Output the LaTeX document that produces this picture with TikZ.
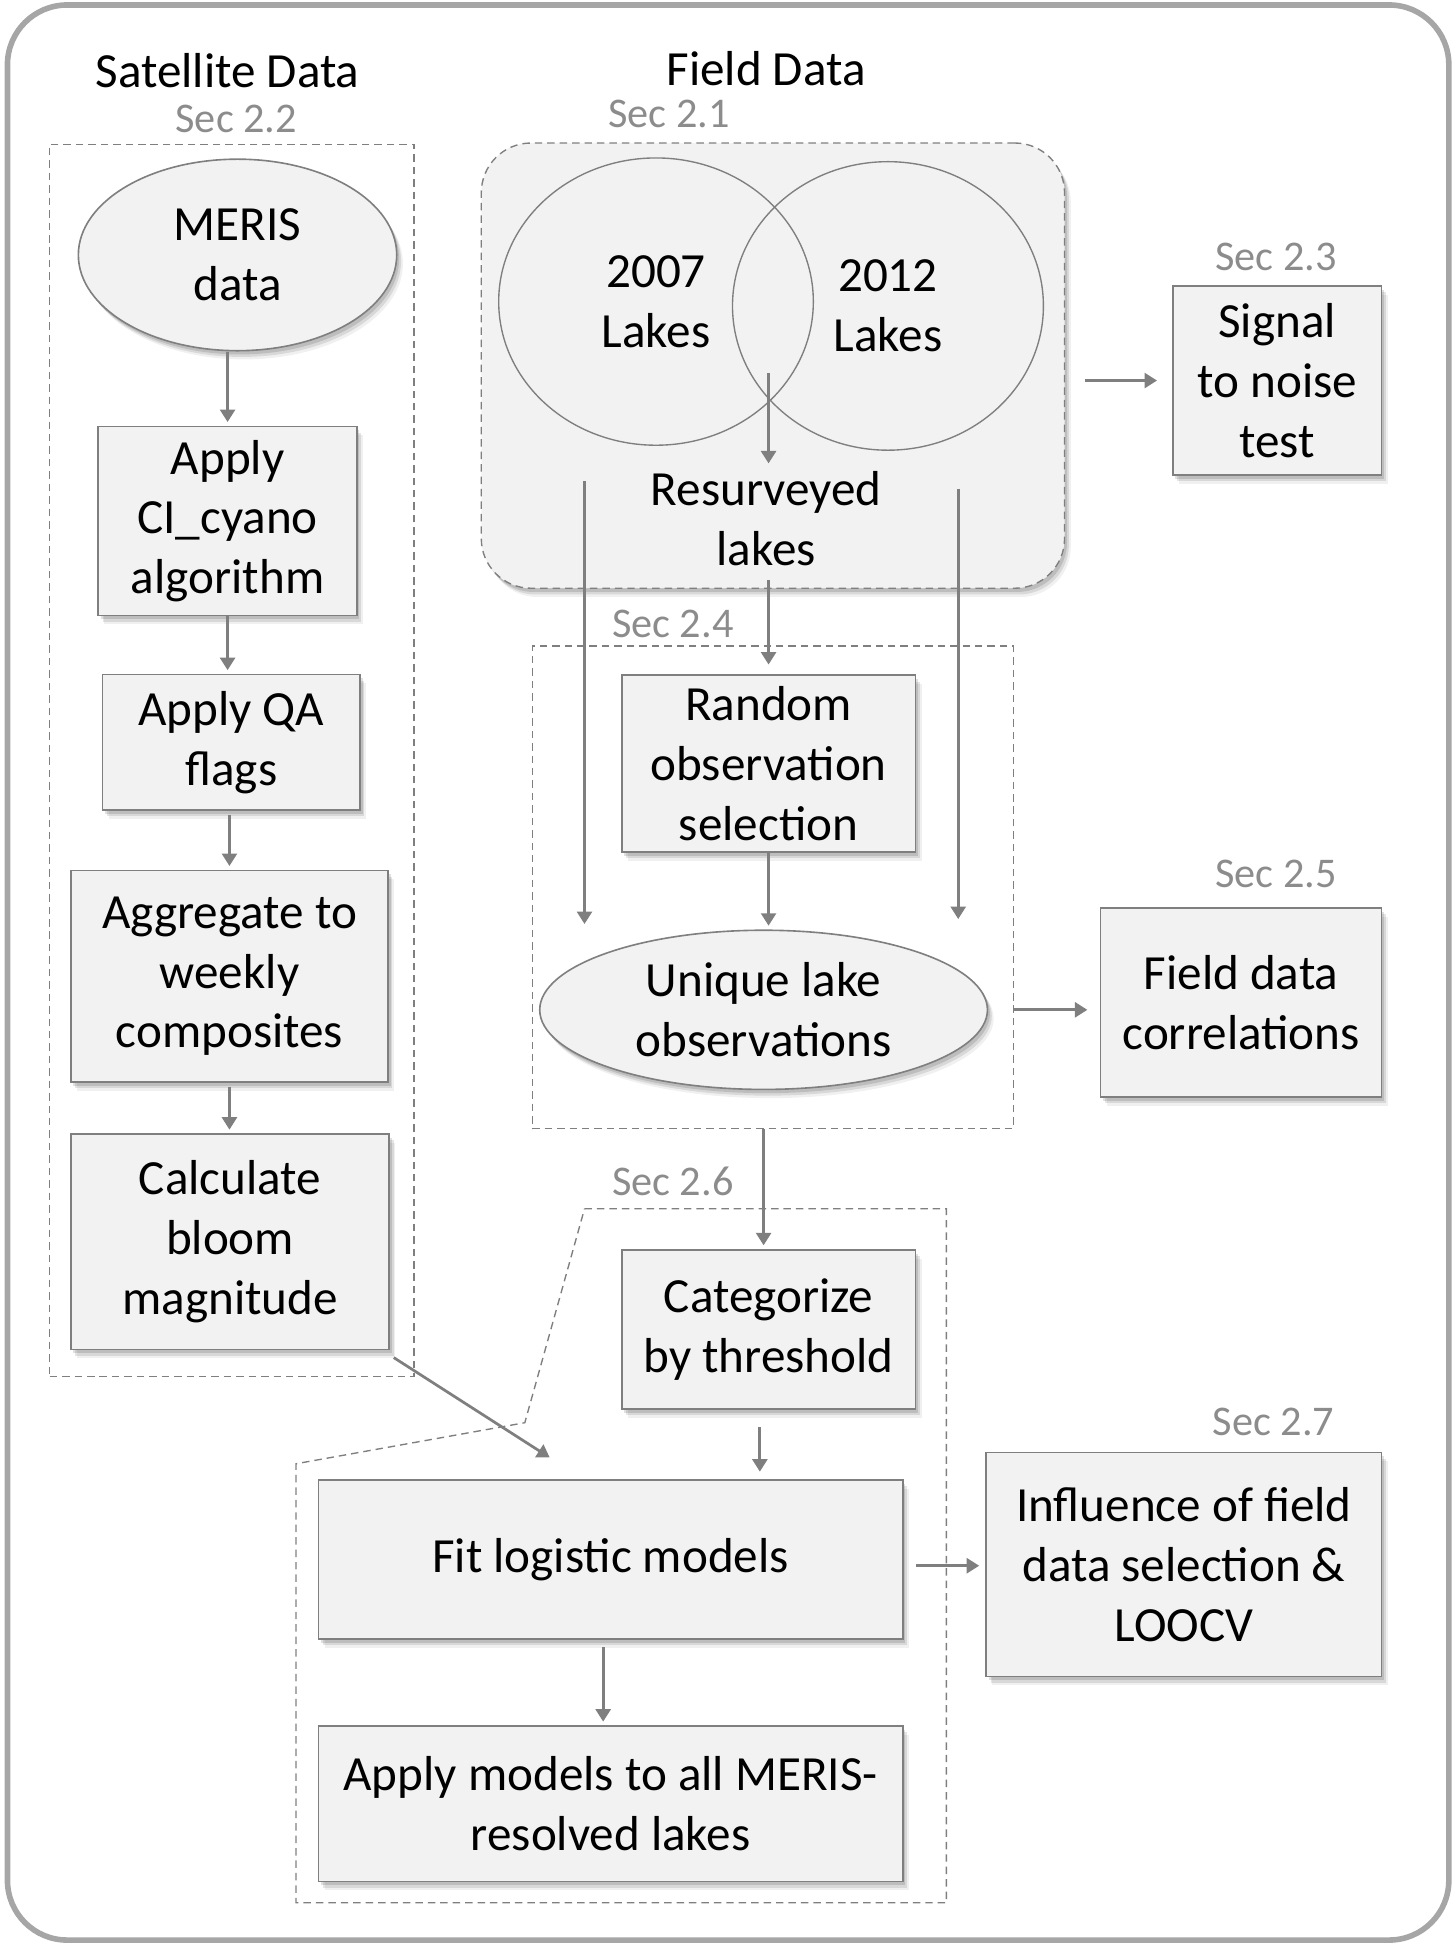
\documentclass[tikz,border=0pt]{standalone}
\usepackage{fontspec}
\setmainfont{Carlito}
\usetikzlibrary{arrows.meta,shapes.geometric,shadows}
\definecolor{boxgray}{HTML}{F2F2F2}
\definecolor{linegray}{HTML}{7F7F7F}
\definecolor{secgray}{HTML}{8C8C8C}
\definecolor{framegray}{HTML}{A6A6A6}
\newcommand{\boxfont}{\fontsize{39.5}{48}\selectfont}
\newcommand{\secfont}{\fontsize{34}{40}\selectfont}
\tikzset{
  softshadow/.style={
    drop shadow={shadow xshift=2pt, shadow yshift=-3pt, fill=black, opacity=.12},
    drop shadow={shadow xshift=3.5pt, shadow yshift=-5pt, fill=black, opacity=.1},
    drop shadow={shadow xshift=5pt, shadow yshift=-7pt, fill=black, opacity=.06}},
  stage/.style={draw=linegray, fill=boxgray, line width=1.3pt, inner sep=0pt,
    align=center, font=\boxfont, softshadow},
  dataoval/.style={stage, ellipse},
  lakeset/.style={ellipse, draw=linegray, line width=1.1pt, inner sep=0pt,
    align=center, font=\boxfont},
  seclabel/.style={text=secgray, font=\secfont},
  heading/.style={font=\boxfont, align=center},
  group/.style={draw=linegray, line width=1.1pt, dash pattern=on 6pt off 4pt},
  flow/.style={draw=linegray, line width=2.2pt, shorten >=3pt,
    -{Triangle[width=12pt,length=10pt]}},
}
\begin{document}
\begin{tikzpicture}[x=1pt, y=-1pt]
    \useasboundingbox (0, 0) rectangle (1169, 1568);
    \draw[framegray, line width=4.5pt, rounded corners=48pt] (6, 4) rectangle (1165, 1560);
    % headings and section labels
    \node[heading] (sathead) at (183, 57) {Satellite Data};
    \node[heading] (fieldhead) at (616, 55) {Field Data};
    \node[seclabel] (sec22) at (190, 96) {Sec 2.2};
    \node[seclabel] (sec21) at (538, 92) {Sec 2.1};
    \node[seclabel] (sec23) at (1026, 207) {Sec 2.3};
    \node[seclabel] (sec24) at (541, 502) {Sec 2.4};
    \node[seclabel] (sec25) at (1026, 703) {Sec 2.5};
    \node[seclabel] (sec26) at (541, 950) {Sec 2.6};
    \node[seclabel] (sec27) at (1024, 1143) {Sec 2.7};
    % dashed groups
    \node[group, minimum width=293pt, minimum height=991pt] (grptwo) at (186.5, 611.5) {};
    \node[group, fill=boxgray, rounded corners=40pt, minimum width=469pt, minimum height=358pt,
          softshadow] (grpone) at (621.5, 294) {};
    \node[group, minimum width=387pt, minimum height=388pt] (grpfour) at (621.5, 713.5) {};
    \draw[group] (470, 972) -- (761, 972) -- (761, 1530) -- (238, 1530)
                 -- (238, 1177) -- (422, 1144) -- cycle;
    % satellite column
    \node[dataoval, minimum width=256pt, minimum height=154pt] (meris) at (191, 205) {MERIS\\data};
    \node[stage, minimum width=208pt, minimum height=152pt] (ci) at (183, 419)
          {Apply\\CI\_cyano\\algorithm};
    \node[stage, minimum width=207pt, minimum height=109pt] (qa) at (186, 597) {Apply QA\\flags};
    \node[stage, minimum width=255pt, minimum height=170pt] (agg) at (184.5, 785)
          {Aggregate to\\weekly\\composites};
    \node[stage, minimum width=256pt, minimum height=173pt] (calc) at (185, 998.5)
          {Calculate\\bloom\\magnitude};
    % field column
    \node[lakeset, minimum width=253pt, minimum height=231pt] (yr07) at (527.5, 242.5) {2007\\Lakes};
    \node[lakeset, minimum width=250pt, minimum height=232pt] (yr12) at (714, 246) {2012\\Lakes};
    \node[heading] (resurv) at (616, 417) {Resurveyed\\lakes};
    \node[stage, minimum width=236pt, minimum height=142pt] (random) at (618, 614)
          {Random\\observation\\selection};
    \node[dataoval, minimum width=360pt, minimum height=128pt] (unique) at (614, 812)
          {Unique lake\\observations};
    \node[stage, minimum width=236pt, minimum height=128pt] (catg) at (618, 1069)
          {Categorize\\by threshold};
    \node[stage, minimum width=470pt, minimum height=128pt] (fit) at (491, 1254) {Fit logistic models};
    \node[stage, minimum width=470pt, minimum height=125pt] (applym) at (491, 1450.5)
          {Apply models to all MERIS-\\resolved lakes};
    % side boxes
    \node[stage, minimum width=168pt, minimum height=152pt] (signal) at (1027, 306)
          {Signal\\to noise\\test};
    \node[stage, minimum width=226pt, minimum height=152pt] (fieldcorr) at (998, 806)
          {Field data\\correlations};
    \node[stage, minimum width=318pt, minimum height=180pt] (influence) at (952, 1258)
          {Influence of field\\data selection \&\\LOOCV};
    % free ends
    \coordinate (lens) at (618, 300);
    \coordinate (only07top) at (470, 387);
    \coordinate (only07end) at (470, 743);
    \coordinate (only12top) at (770.5, 393);
    \coordinate (only12end) at (770.5, 739);
    \coordinate (fitin) at (442, 1172);
    % arrows
    \draw[flow] (meris.south -| ci.north) -- (ci.north);
    \draw[flow] (ci.south) -- (ci.south |- qa.north);
    \draw[flow, shorten <=3pt] (qa.south -| agg.north) -- (agg.north);
    \draw[flow, shorten <=3pt] (agg.south) -- (agg.south |- calc.north);
    \draw[flow] (lens) -- (resurv.north -| lens);
    \draw[flow, shorten <=8pt, shorten >=8pt] (resurv.south -| random.north) -- (random.north);
    \draw[flow, shorten >=0pt] (only07top) -- (only07end);
    \draw[flow, shorten >=0pt] (only12top) -- (only12end);
    \draw[flow] (random.south) -- (random.south |- unique.north);
    \draw[flow] (grpfour.south -| unique) -- (catg.north -| unique);
    \draw[flow, shorten <=14pt, shorten >=6pt] ([xshift=-7pt]catg.south) -- ([xshift=-7pt]catg.south |- fit.north);
    \draw[flow, shorten <=6pt] ([xshift=-6pt]fit.south) -- ([xshift=-6pt]fit.south |- applym.north);
    \draw[flow, shorten <=16pt, shorten >=12pt] (grpone.east |- signal) -- (signal.west);
    \draw[flow, shorten >=10pt] (grpfour.east |- unique) -- (fieldcorr.west |- unique);
    \draw[flow, shorten <=10pt, shorten >=5pt] ([yshift=-5pt]fit.east) -- ([yshift=-5pt]fit.east -| influence.west);
    \draw[flow, shorten >=0pt] ([shift={(3, 6)}]calc.south east) -- (fitin);
\end{tikzpicture}
\end{document}
